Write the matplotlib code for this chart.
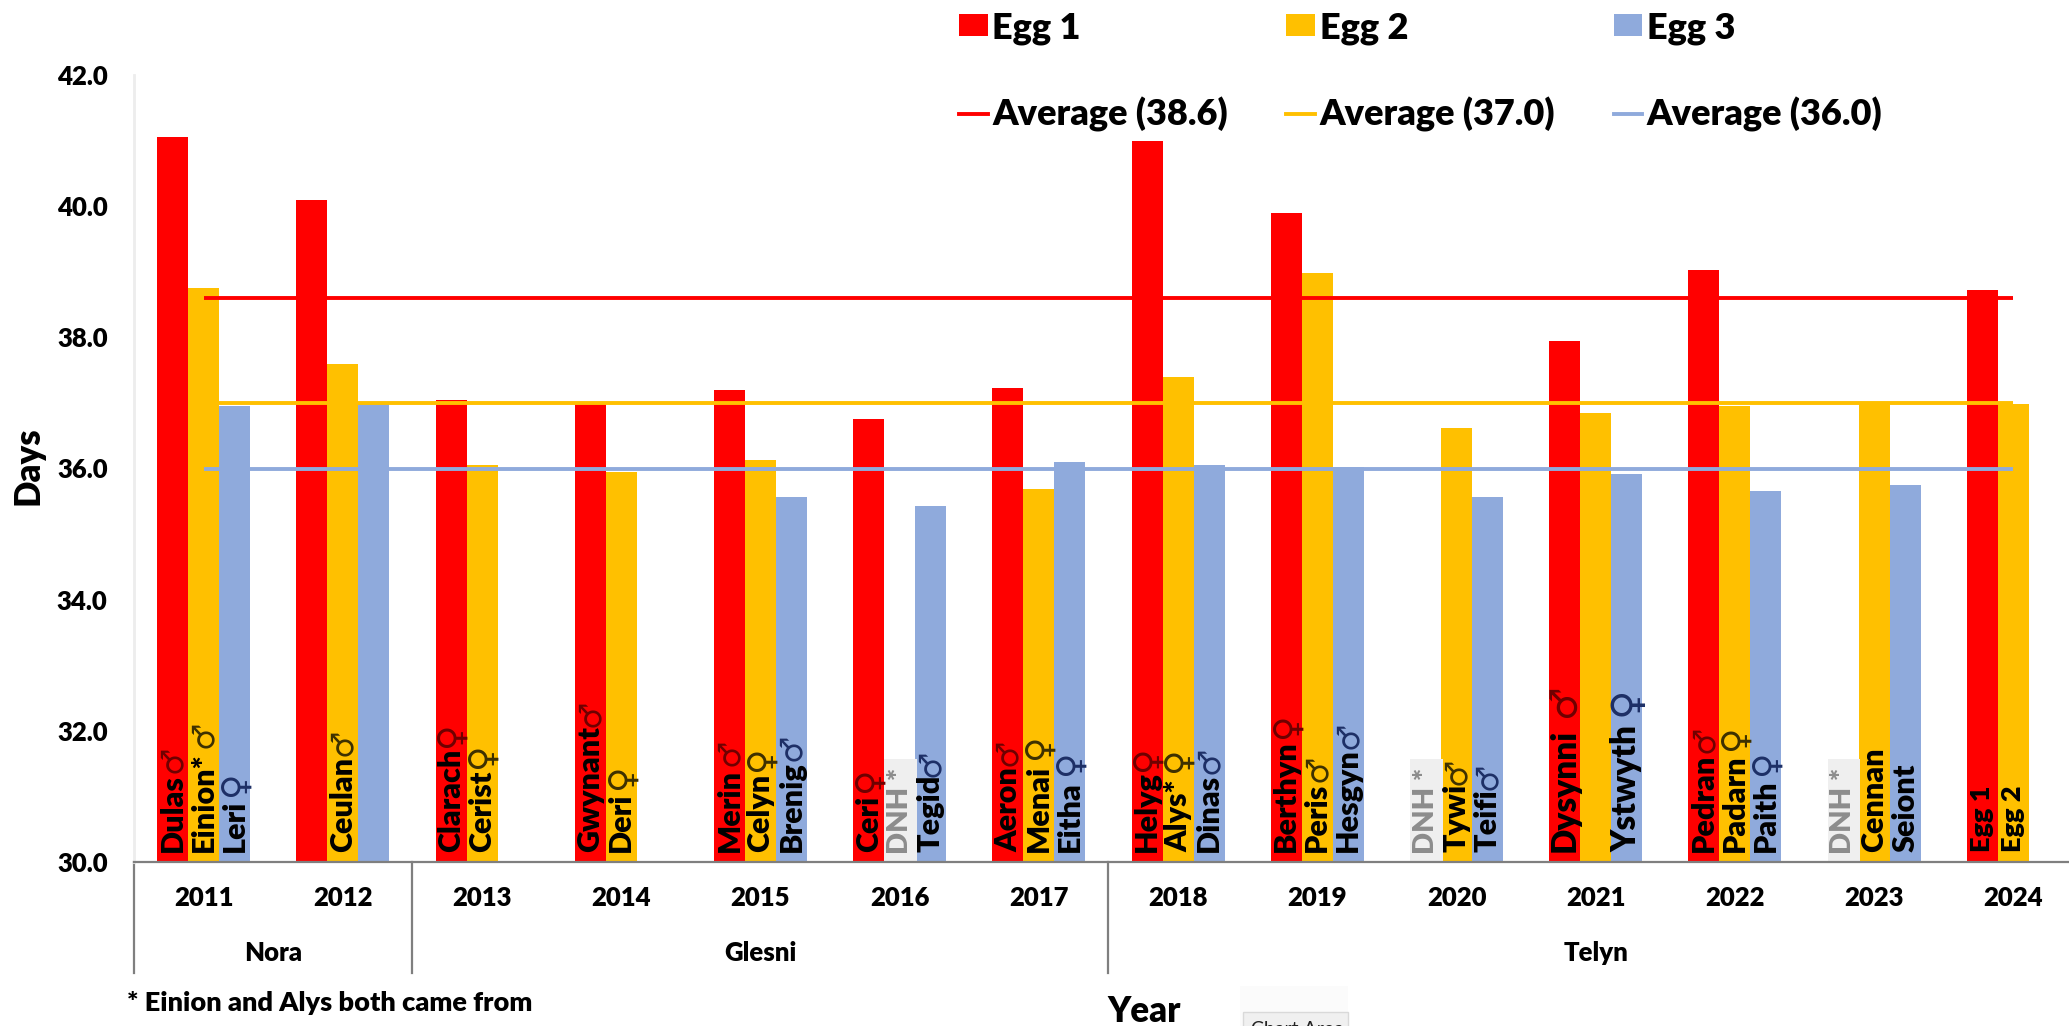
import numpy as np
import matplotlib
matplotlib.use("Agg")
import matplotlib.pyplot as plt
from matplotlib.patches import Patch, Rectangle
from matplotlib.lines import Line2D

plt.rcParams['font.family'] = ['Lato', 'DejaVu Sans']
plt.rcParams['font.weight'] = 800

nan = np.nan
years = [2011, 2012, 2013, 2014, 2015, 2016, 2017, 2018, 2019, 2020, 2021, 2022, 2023, 2024]
egg1 = [41.06, 40.1, 37.05, 37.0, 37.2, 36.75, 37.22, 41.0, 39.9, nan, 37.95, 39.02, nan, 38.72]
egg2 = [38.75, 37.6, 36.05, 35.95, 36.13, nan, 35.68, 37.4, 38.98, 36.62, 36.85, 36.95, 37.02, 36.98]
egg3 = [36.95, 37.0, nan, nan, 35.57, 35.43, 36.1, 36.05, 36.02, 35.57, 35.92, 35.65, 35.75, nan]
averages = [38.6, 37.0, 36.0]
avg_labels = ['Average (38.6)', 'Average (37.0)', 'Average (36.0)']
egg_labels = ['Egg 1', 'Egg 2', 'Egg 3']
colors = ['#FF0000', '#FFC000', '#8FAADC']
sym_colors = ['#6e0000', '#3d3000', '#1d2f66']

names1 = ['Dulas', '', 'Clarach', 'Gwynant', 'Merin', 'Ceri', 'Aeron', 'Helyg', 'Berthyn', 'DNH *', 'Dysynni', 'Pedran', 'DNH *', 'Egg 1']
names2 = ['Einion*', 'Ceulan', 'Cerist', 'Deri', 'Celyn', 'DNH *', 'Menai', 'Alys*', 'Peris', 'Tywi', '', 'Padarn', 'Cennan', 'Egg 2']
names3 = ['Leri', '', '', '', 'Brenig', 'Tegid', 'Eitha', 'Dinas', 'Hesgyn', 'Teifi', 'Ystwyth', 'Paith', 'Seiont', '']
sex1 = ['♂', '', '♀', '♂', '♂', '♀', '♂', '♀', '♀', '', '♂', '♂', '', '']
sex2 = ['♂', '♂', '♀', '♀', '♀', '', '♀', '♀', '♂', '♂', '', '♀', '', '']
sex3 = ['♀', '', '', '', '♂', '♂', '♀', '♂', '♂', '♂', '♀', '♀', '', '']
sex_y1 = [31.57, nan, 31.93, 32.27, 31.67, 31.25, 31.67, 31.57, 32.07, nan, 32.45, 31.87, nan, nan]
sex_y2 = [31.95, 31.83, 31.61, 31.29, 31.57, nan, 31.75, 31.55, 31.43, 31.39, nan, 31.89, nan, nan]
sex_y3 = [31.19, nan, nan, nan, 31.75, 31.51, 31.51, 31.55, 31.93, 31.31, 32.45, 31.51, nan, nan]
groups = ['Nora', 'Glesni', 'Telyn']
group_spans = [(0, 1), (2, 6), (7, 13)]
footnote = '* Einion and Alys both came from'
large_names = ['Dysynni', 'Ystwyth']
small_names = ['Egg 1', 'Egg 2']

W, H = 2069, 1026
fig = plt.figure(figsize=(W / 100, H / 100), dpi=100)
left, right, top, bottom = 134, 2083, 75, 862
ax = fig.add_axes([left / W, 1 - bottom / H, (right - left) / W, (bottom - top) / H])
ax.set_xlim(-0.5, 13.5)
ax.set_ylim(30, 42)

px = (right - left) / 14
bw = 31 / px
x = np.arange(len(years))
series = [egg1, egg2, egg3]
for s, (vals, col) in enumerate(zip(series, colors)):
    ax.bar(x + (s - 1) * bw, vals, width=bw, color=col, linewidth=0, zorder=2)

for avg, col in zip(averages, colors):
    ax.plot([x[0], x[-1]], [avg, avg], color=col, lw=2.8, zorder=3, solid_capstyle='butt')

all_names = [names1, names2, names3]
all_sex = [sex1, sex2, sex3]
all_sy = [sex_y1, sex_y2, sex_y3]
for s in range(3):
    for i in range(len(years)):
        xc = x[i] + (s - 1) * bw
        nm = all_names[s][i]
        if nm:
            if nm.startswith('DNH'):
                ax.add_patch(Rectangle((xc - bw / 2, 30), bw * 1.05, 1.57, facecolor='#EFEFEF',
                                       edgecolor='none', zorder=2.5))
                ax.text(xc, 30.12, nm, rotation=90, ha='center', va='bottom', fontsize=21,
                        color='#8C8C8C', zorder=4)
            else:
                size = 24 if nm in large_names else 19.5 if nm in small_names else 22
                ax.text(xc, 30.15, nm, rotation=90, ha='center', va='bottom',
                        fontsize=size, color='black', zorder=4)
        sym = all_sex[s][i]
        if sym:
            big = all_names[s][i] in large_names
            if sym == '♂':
                size = 27 if big else 22
            else:
                size = 29 if big else 25
            ax.text(xc, all_sy[s][i], sym, rotation=90, ha='center', va='center',
                    family='DejaVu Sans', fontweight='normal', fontsize=size,
                    color=sym_colors[s], zorder=4)

for sp in ['top', 'right']:
    ax.spines[sp].set_visible(False)
ax.spines['left'].set_color('#EDEDED')
ax.spines['left'].set_linewidth(2)
ax.spines['bottom'].set_color('#7F7F7F')
ax.spines['bottom'].set_linewidth(1.6)
ax.spines['bottom'].set_zorder(5)
ax.set_yticks(np.arange(30, 43, 2))
ax.set_yticklabels([f'{v:.1f}' for v in np.arange(30, 43, 2)], fontsize=18.5)
ax.tick_params(axis='y', length=0, pad=19)
ax.set_xticks(x)
ax.set_xticklabels([str(y) for y in years], fontsize=18.5)
ax.tick_params(axis='x', length=0, pad=17)

sep_h = (973 - 862) / (bottom - top)
trans = ax.get_xaxis_transform()
for a, b in group_spans:
    ax.plot([a - 0.5, a - 0.5], [0, -sep_h], transform=trans, color='#7F7F7F', lw=1.6, clip_on=False)
for (a, b), g in zip(group_spans, groups):
    ax.text((a + b) / 2, -(953 - 862) / (bottom - top), g, transform=trans, ha='center',
            va='center', fontsize=18.5)


def fx(p):
    return p / W


def fy(p):
    return 1 - p / H


fig.text(fx(28), fy(466), 'Days', rotation=90, ha='center', va='center', fontsize=25)
fig.text(fx(1144), fy(1022), 'Year', ha='center', va='baseline', fontsize=25)
fig.text(fx(127), fy(1003), footnote, ha='left', va='center', fontsize=19.5)

# chart-area tooltip, cut by the lower edge as in the reference
fig.add_artist(Rectangle((fx(1240), fy(1026)), 108 / W, 40 / H, transform=fig.transFigure,
                         facecolor='#FBFBFB', edgecolor='none'))
fig.add_artist(Rectangle((fx(1243), fy(1032)), 105 / W, 20 / H, transform=fig.transFigure,
                         facecolor='#F0F0F0', edgecolor='#D9D9D9', lw=1))
fig.text(fx(1251), fy(1021), 'Chart Area', ha='left', va='top', fontsize=14,
         fontweight='normal', color='#222222')

handles, labels = [], []
for c, e, a in zip(colors, egg_labels, avg_labels):
    handles += [Patch(facecolor=c, edgecolor='none'), Line2D([0], [0], color=c, lw=2.8)]
    labels += [e, a]
fig.legend(handles, labels, ncols=3, frameon=False, fontsize=26,
           loc='upper left', bbox_to_anchor=(fx(950), fy(2)),
           handlelength=0.8, handleheight=0.57, handletextpad=0.12,
           columnspacing=1.62, labelspacing=1.46, borderaxespad=0, borderpad=0.25)

fig.savefig('out.png', dpi=100)
